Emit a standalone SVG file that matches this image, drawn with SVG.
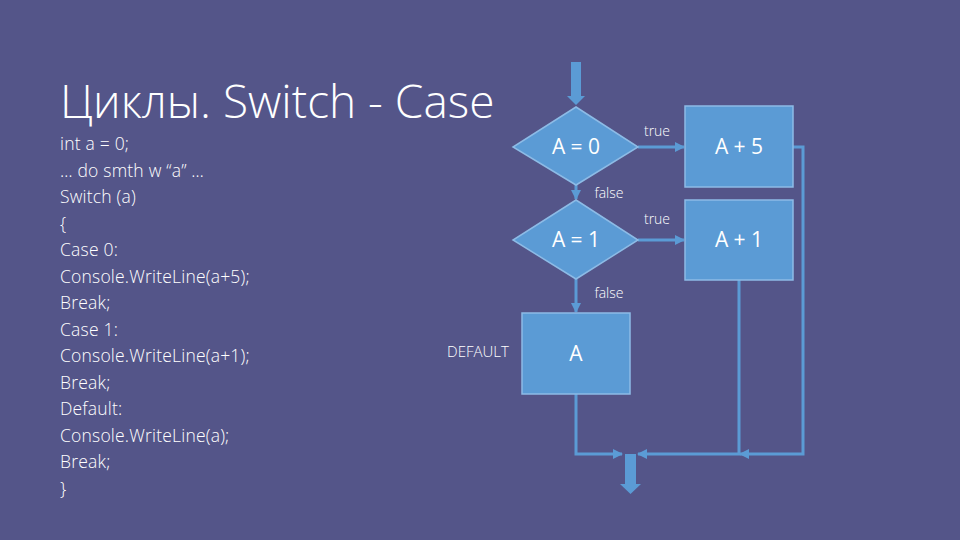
<svg xmlns="http://www.w3.org/2000/svg" width="960" height="540" viewBox="0 0 960 540">
<style>
.bg{fill:#545589}
.node{fill:#5b9bd5;stroke:#8dbbe6;stroke-width:1.5}
.conn{fill:none;stroke:#5b9bd5;stroke-width:3}
.lbl{font-family:"Open Sans","Liberation Sans",sans-serif;fill:#ffffff}
.code{font-family:"Open Sans","Liberation Sans",sans-serif;font-size:17.5px;fill:#ffffff;font-weight:300;letter-spacing:0.2px}
.big{fill:#5b9bd5}
</style>
<defs>
<marker id="ah" markerWidth="10" markerHeight="10" refX="9" refY="5" orient="auto" markerUnits="userSpaceOnUse">
<path d="M0,0 L10,5 L0,10 Z" fill="#5b9bd5"/>
</marker>
</defs>
<rect class="bg" x="0" y="0" width="960" height="540"/>
<text class="lbl" x="60" y="118" font-size="46" font-weight="300">Циклы. Switch - Case</text>
<g id="code">
<text class="code" x="60" y="150">int a = 0;</text>
<text class="code" x="60" y="176.5">… do smth w “a” …</text>
<text class="code" x="60" y="203">Switch (a)</text>
<text class="code" x="60" y="229.5">{</text>
<text class="code" x="60" y="256">Case 0:</text>
<text class="code" x="60" y="282.5">Console.WriteLine(a+5);</text>
<text class="code" x="60" y="309">Break;</text>
<text class="code" x="60" y="335.5">Case 1:</text>
<text class="code" x="60" y="362">Console.WriteLine(a+1);</text>
<text class="code" x="60" y="388.5">Break;</text>
<text class="code" x="60" y="415">Default:</text>
<text class="code" x="60" y="441.5">Console.WriteLine(a);</text>
<text class="code" x="60" y="468">Break;</text>
<text class="code" x="60" y="494.5">}</text>
</g>
<g id="connectors">
<path class="big" d="M571,62 H581 V96 H585 L576,105 L567,96 H571 Z"/>
<path class="conn" d="M638,147 H684" marker-end="url(#ah)"/>
<path class="conn" d="M576,185 V199" marker-end="url(#ah)"/>
<path class="conn" d="M638,240 H684" marker-end="url(#ah)"/>
<path class="conn" d="M576,279 V312" marker-end="url(#ah)"/>
<path class="conn" d="M793,147 H803 V454 H740" marker-end="url(#ah)"/>
<path class="conn" d="M739,280 V454 H638" marker-end="url(#ah)"/>
<path class="conn" d="M576,394 V454 H622" marker-end="url(#ah)"/>
<path class="big" d="M625,454 H636 V484 H641 L630.5,494 L620,484 H625 Z"/>
<text class="lbl" x="657" y="136" font-size="14" text-anchor="middle" font-weight="300">true</text>
<text class="lbl" x="609" y="198" font-size="14" text-anchor="middle" font-weight="300">false</text>
<text class="lbl" x="657" y="224" font-size="14" text-anchor="middle" font-weight="300">true</text>
<text class="lbl" x="609" y="298" font-size="14" text-anchor="middle" font-weight="300">false</text>
</g>
<g id="dA0">
<polygon class="node" points="576,107 638,147 576,185 513,147"/>
<text class="lbl" x="576" y="154" font-size="21" text-anchor="middle">A = 0</text>
</g>
<g id="dA1">
<polygon class="node" points="576,200 638,240 576,279 513,240"/>
<text class="lbl" x="576" y="247" font-size="21" text-anchor="middle">A = 1</text>
</g>
<g id="bA5">
<rect class="node" x="685" y="106" width="108" height="81"/>
<text class="lbl" x="739" y="154" font-size="21" text-anchor="middle">A + 5</text>
</g>
<g id="bA1">
<rect class="node" x="685" y="200" width="108" height="80"/>
<text class="lbl" x="739" y="247" font-size="21" text-anchor="middle">A + 1</text>
</g>
<g id="bDef">
<rect class="node" x="522" y="313" width="108" height="81"/>
<text class="lbl" x="576" y="361" font-size="21" text-anchor="middle">A</text>
</g>
<text class="lbl" x="478" y="357" font-size="15" text-anchor="middle" font-weight="300">DEFAULT</text>
</svg>
